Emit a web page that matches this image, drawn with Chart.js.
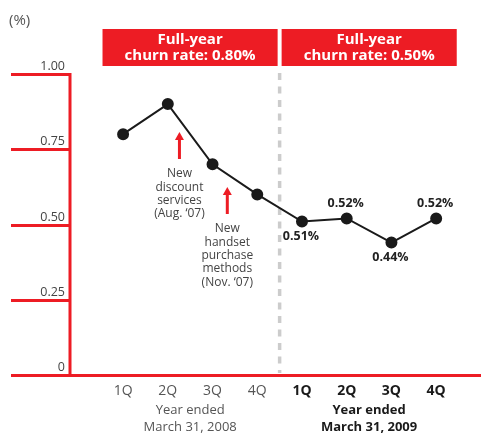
<!DOCTYPE html>
<html>
<head>
<meta charset="utf-8">
<script src="https://cdn.jsdelivr.net/npm/chart.js@4/dist/chart.umd.min.js"></script>
<style>
  html, body { margin: 0; padding: 0; background: #fff; }
  #c { display: block; }
</style>
</head>
<body>
<canvas id="c" width="481" height="433"></canvas>
<script>
// Quarterly churn rate (%)
const quarters = ['1Q', '2Q', '3Q', '4Q', '1Q', '2Q', '3Q', '4Q'];
const churnRate = [0.80, 0.90, 0.70, 0.60, 0.51, 0.52, 0.44, 0.52];
const yTicks = [0, 0.25, 0.50, 0.75, 1.00];
const fiscalYears = [
  { lines: ['Year ended', 'March 31, 2008'], first: 0, last: 3, bold: false, fullYear: 0.80 },
  { lines: ['Year ended', 'March 31, 2009'], first: 4, last: 7, bold: true, fullYear: 0.50 }
];
// value labels shown for the latest year: +1 below the point, -1 above
const valueLabelSide = [0, 0, 0, 0, 1, -1, 1, -1];
const events = [
  { at: 1.26, lines: ['New', 'discount', 'services', '(Aug. \u201807)'] },
  { at: 2.33, lines: ['New', 'handset', 'purchase', 'methods', '(Nov. \u201807)'] }
];

const RED = '#ED1C24';
const FONT = '"Open Sans", "Noto Sans", sans-serif';

const decorPlugin = {
  id: 'decor',
  beforeDatasetsDraw(chart) {
    const ctx = chart.ctx;
    const xs = chart.scales.x, ys = chart.scales.y;
    const area = chart.chartArea;
    ctx.save();

    // unit label
    ctx.fillStyle = '#555';
    ctx.font = '15px ' + FONT;
    ctx.textAlign = 'left';
    ctx.textBaseline = 'middle';
    ctx.fillText('(%)', 9, 21);

    // y ticks: red lines to the left of the axis with labels above them
    ctx.strokeStyle = RED;
    ctx.lineWidth = 3;
    yTicks.forEach(v => {
      const y = Math.round(ys.getPixelForValue(v)) + 0.5;
      ctx.beginPath();
      ctx.moveTo(11, y);
      ctx.lineTo(v === 0 ? chart.width : area.left, y);
      ctx.stroke();
      ctx.fillStyle = '#444';
      ctx.font = '12.5px ' + FONT;
      ctx.textAlign = 'right';
      ctx.textBaseline = 'bottom';
      ctx.fillText(v === 0 ? '0' : v.toFixed(2), area.left - 5, y - 2);
    });
    // vertical axis
    ctx.beginPath();
    ctx.moveTo(area.left, ys.getPixelForValue(1) - 1);
    ctx.lineTo(area.left, ys.getPixelForValue(0) + 1);
    ctx.stroke();

    // dashed divider between fiscal years
    const divX = xs.getPixelForValue((fiscalYears[0].last + fiscalYears[1].first) / 2);
    ctx.strokeStyle = '#cccccc';
    ctx.lineWidth = 3.5;
    ctx.setLineDash([7, 6.5]);
    ctx.beginPath();
    ctx.moveTo(divX, ys.getPixelForValue(1) - 1);
    ctx.lineTo(divX, ys.getPixelForValue(0) - 2);
    ctx.stroke();
    ctx.setLineDash([]);

    // full-year banners
    fiscalYears.forEach((fy, k) => {
      const left = k === 0 ? xs.getPixelForValue(fy.first - 0.46) : divX + 2;
      const right = k === 0 ? divX - 2 : xs.getPixelForValue(fy.last + 0.46);
      ctx.fillStyle = RED;
      ctx.fillRect(left, 29, right - left, 37);
      ctx.fillStyle = '#fff';
      ctx.font = 'bold 15px ' + FONT;
      ctx.textAlign = 'center';
      ctx.textBaseline = 'middle';
      const cx = (left + right) / 2;
      ctx.fillText('Full-year', cx, 40);
      ctx.fillText('churn rate: ' + fy.fullYear.toFixed(2) + '%', cx, 56);
    });

    // x category labels and fiscal year captions
    quarters.forEach((q, i) => {
      const bold = i >= fiscalYears[1].first;
      ctx.fillStyle = bold ? '#1a1a1a' : '#555';
      ctx.font = (bold ? 'bold ' : '') + '14px ' + FONT;
      ctx.textAlign = 'center';
      ctx.textBaseline = 'middle';
      ctx.fillText(q, xs.getPixelForValue(i), 391);
    });
    fiscalYears.forEach(fy => {
      const cx = xs.getPixelForValue((fy.first + fy.last) / 2);
      ctx.fillStyle = fy.bold ? '#1a1a1a' : '#555';
      ctx.font = (fy.bold ? 'bold ' : '') + '13px ' + FONT;
      ctx.textAlign = 'center';
      ctx.textBaseline = 'middle';
      fy.lines.forEach((t, j) => ctx.fillText(t, cx, 410 + j * 17.5));
    });

    // event annotations with red arrows
    events.forEach((ev, k) => {
      const x = xs.getPixelForValue(ev.at);
      const top = k === 0 ? 132 : 187;
      const bottom = top + 27;
      ctx.strokeStyle = RED;
      ctx.lineWidth = 3;
      ctx.beginPath();
      ctx.moveTo(x, bottom);
      ctx.lineTo(x, top + 6);
      ctx.stroke();
      ctx.fillStyle = RED;
      ctx.beginPath();
      ctx.moveTo(x, top);
      ctx.lineTo(x - 4.5, top + 8);
      ctx.lineTo(x + 4.5, top + 8);
      ctx.closePath();
      ctx.fill();
      ctx.fillStyle = '#444';
      ctx.font = '12px ' + FONT;
      ctx.textAlign = 'center';
      ctx.textBaseline = 'middle';
      ev.lines.forEach((t, j) => ctx.fillText(t, x, bottom + 15 + j * 13.3));
    });
    ctx.restore();
  },
  afterDatasetsDraw(chart) {
    const ctx = chart.ctx;
    const xs = chart.scales.x, ys = chart.scales.y;
    ctx.save();
    ctx.fillStyle = '#222';
    ctx.font = 'bold 12.5px ' + FONT;
    ctx.textAlign = 'center';
    ctx.textBaseline = 'middle';
    churnRate.forEach((v, i) => {
      const side = valueLabelSide[i];
      if (!side) return;
      const x = xs.getPixelForValue(i) - 1;
      const y = ys.getPixelForValue(v) + side * 15;
      ctx.fillText(v.toFixed(2) + '%', x, y);
    });
    ctx.restore();
  }
};

new Chart(document.getElementById('c'), {
  type: 'line',
  data: {
    datasets: [{
      data: churnRate.map((v, i) => ({ x: i, y: v })),
      borderColor: '#1a1a1a',
      borderWidth: 2,
      pointBackgroundColor: '#1a1a1a',
      pointBorderColor: '#1a1a1a',
      pointRadius: 5,
      tension: 0
    }]
  },
  options: {
    responsive: false,
    animation: false,
    layout: { padding: { left: 70, right: 0, top: 74, bottom: 58 } },
    plugins: { legend: { display: false }, tooltip: { enabled: false } },
    scales: {
      x: { type: 'linear', display: false, min: -1.187, max: 7.846 },
      y: { type: 'linear', display: false, min: 0, max: 1 }
    }
  },
  plugins: [decorPlugin]
});
</script>
</body>
</html>
